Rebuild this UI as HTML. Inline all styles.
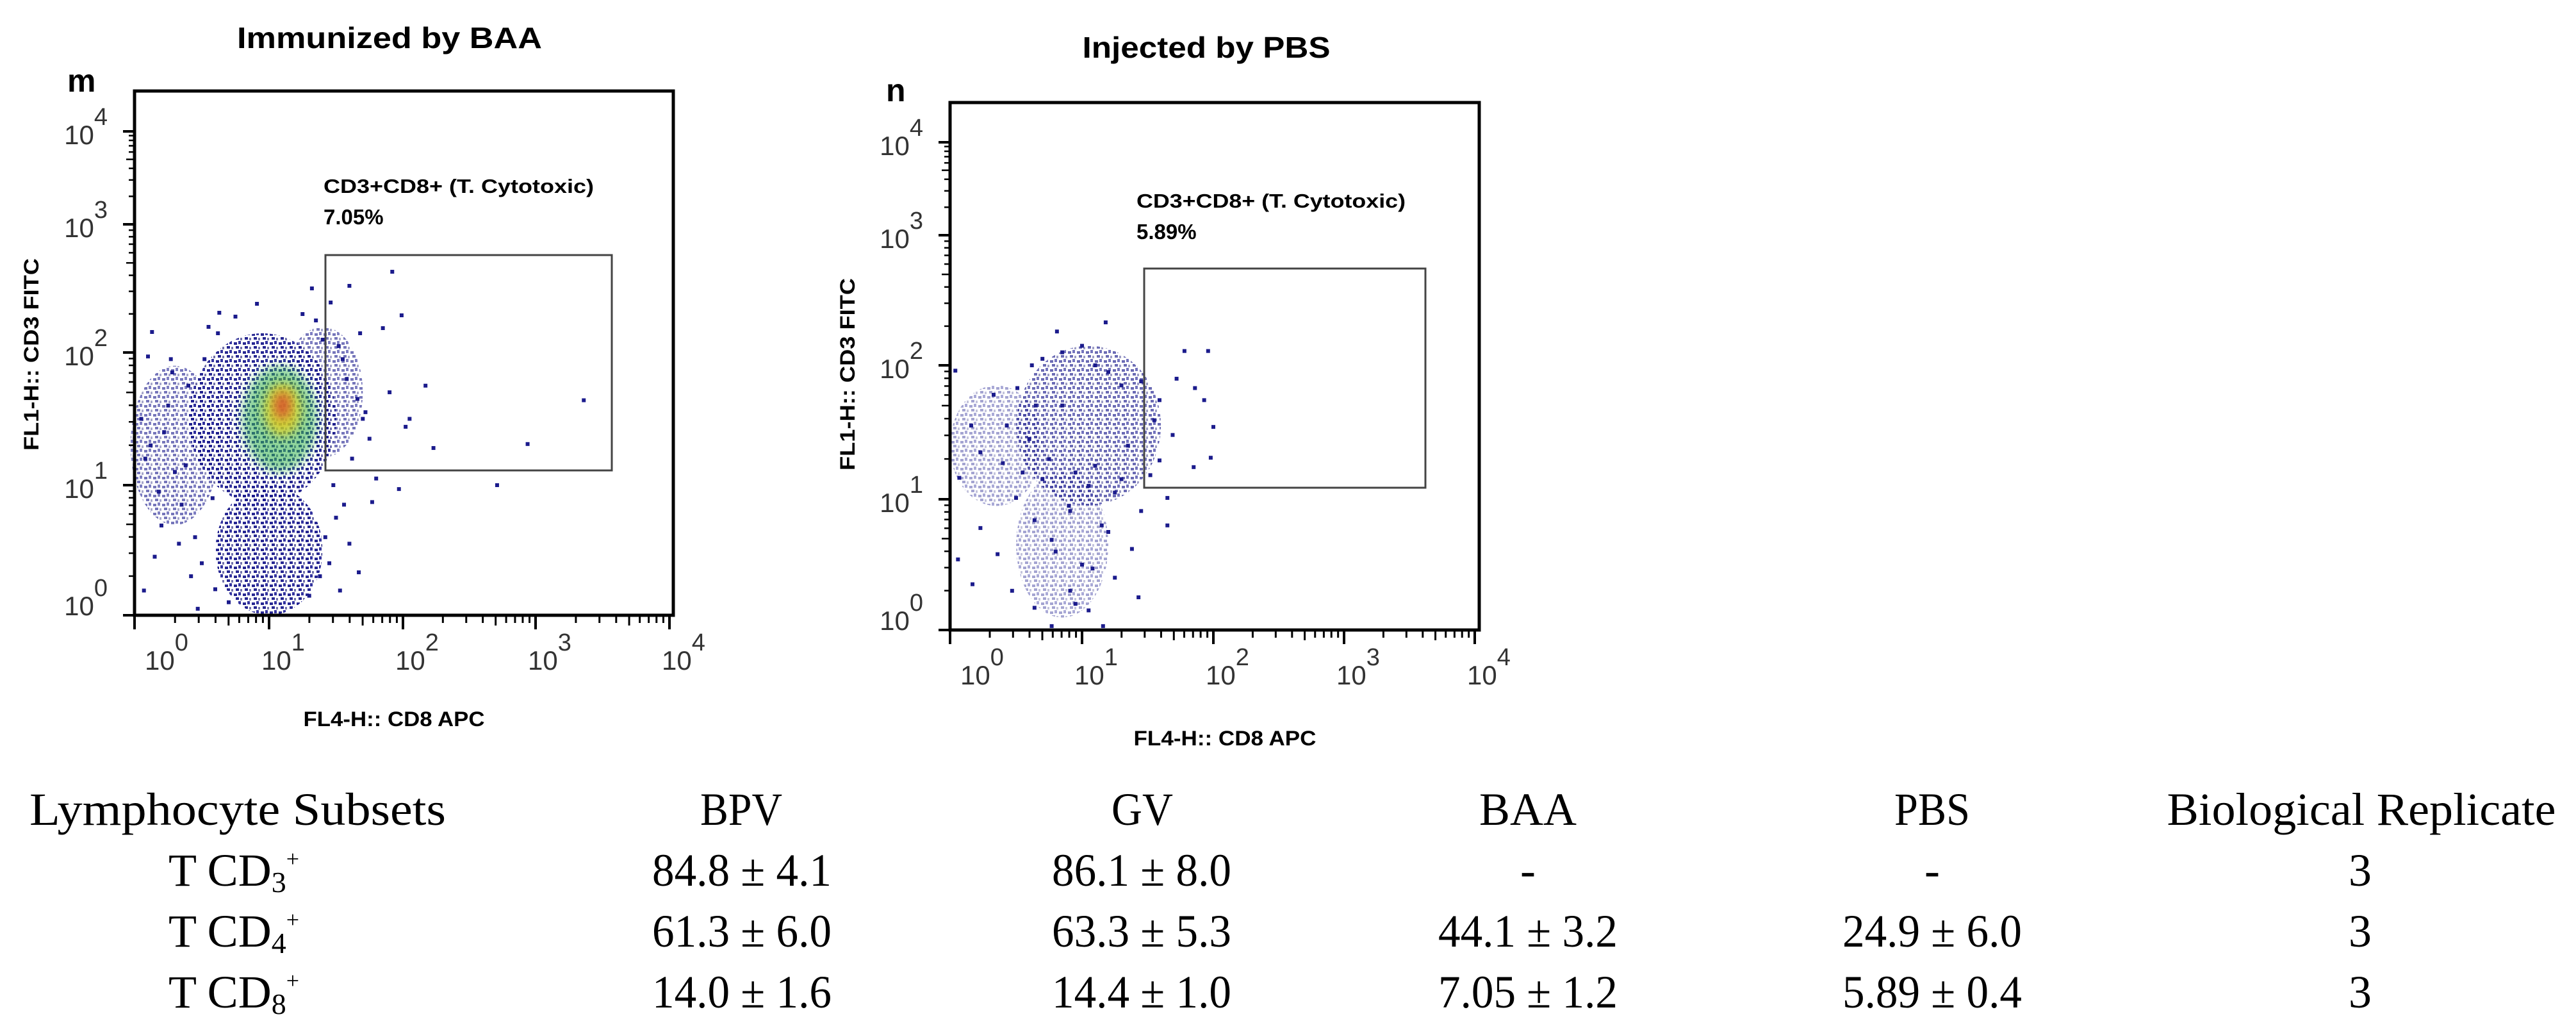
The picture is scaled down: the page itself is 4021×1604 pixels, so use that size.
<!DOCTYPE html>
<html><head><meta charset="utf-8">
<style>
html,body{margin:0;padding:0;background:#fff;}
svg{display:block;}
.ttl{font-family:"Liberation Sans",sans-serif;font-weight:bold;fill:#000;}
.tick{font-family:"Liberation Sans",sans-serif;fill:#333;}
.tbl{font-family:"Liberation Serif",serif;fill:#000;font-size:72px;}
</style></head>
<body>
<svg id="fig" width="4021" height="1604" viewBox="0 0 4021 1604" xmlns="http://www.w3.org/2000/svg">
  <defs>
    <pattern id="speck" width="14" height="14" patternUnits="userSpaceOnUse">
      <rect x="1" y="2" width="5" height="4" fill="#1b1b8c"/>
      <rect x="8" y="0" width="4" height="5" fill="#2a2a9a"/>
      <rect x="4" y="8" width="5" height="4" fill="#1b1b8c"/>
      <rect x="11" y="9" width="3" height="4" fill="#6a6aa8"/>
    </pattern>
    <filter id="blur" x="-30%" y="-30%" width="160%" height="160%"><feGaussianBlur stdDeviation="8"/></filter>
  </defs>
  <g id="panelM"></g>
  <g id="panelN"></g>
  <g id="table">
    <text class="tbl" x="371" y="1287" text-anchor="middle" textLength="650" lengthAdjust="spacingAndGlyphs">Lymphocyte Subsets</text>
    <text class="tbl" x="1157" y="1287" text-anchor="middle" textLength="128" lengthAdjust="spacingAndGlyphs">BPV</text>
    <text class="tbl" x="1783" y="1287" text-anchor="middle" textLength="96" lengthAdjust="spacingAndGlyphs">GV</text>
    <text class="tbl" x="2385" y="1287" text-anchor="middle" textLength="152" lengthAdjust="spacingAndGlyphs">BAA</text>
    <text class="tbl" x="3016" y="1287" text-anchor="middle" textLength="118" lengthAdjust="spacingAndGlyphs">PBS</text>
    <text class="tbl" x="3686" y="1287" text-anchor="middle" textLength="607" lengthAdjust="spacingAndGlyphs">Biological Replicate</text>
  </g>
  <g>
  <text class="ttl" x="608" y="75" font-size="46" text-anchor="middle" textLength="476" lengthAdjust="spacingAndGlyphs">Immunized by BAA</text>
  <text class="ttl" x="105" y="143" font-size="50">m</text>
  <text class="ttl" x="505" y="301" font-size="31" textLength="422" lengthAdjust="spacingAndGlyphs">CD3+CD8+ (T. Cytotoxic)</text>
  <text class="ttl" x="505" y="350" font-size="33">7.05%</text>
  <text class="ttl" x="0" y="0" font-size="32" text-anchor="middle" textLength="300" lengthAdjust="spacingAndGlyphs" transform="translate(60,553) rotate(-90)">FL1-H:: CD3 FITC</text>
  <text class="ttl" x="615" y="1133" font-size="32" text-anchor="middle" textLength="283" lengthAdjust="spacingAndGlyphs">FL4-H:: CD8 APC</text>
  <text class="ttl" x="1883" y="90" font-size="46" text-anchor="middle" textLength="387" lengthAdjust="spacingAndGlyphs">Injected by PBS</text>
  <text class="ttl" x="1383" y="158" font-size="50">n</text>
  <text class="ttl" x="1774" y="324" font-size="31" textLength="420" lengthAdjust="spacingAndGlyphs">CD3+CD8+ (T. Cytotoxic)</text>
  <text class="ttl" x="1774" y="373" font-size="33">5.89%</text>
  <text class="ttl" x="0" y="0" font-size="32" text-anchor="middle" textLength="300" lengthAdjust="spacingAndGlyphs" transform="translate(1334,584) rotate(-90)">FL1-H:: CD3 FITC</text>
  <text class="ttl" x="1912" y="1163" font-size="32" text-anchor="middle" textLength="285" lengthAdjust="spacingAndGlyphs">FL4-H:: CD8 APC</text>
  </g>
</svg>
<script>
// ---- table data ----
const rowSubs = ['3','4','8'];
const colBPV = ['84.8 ± 4.1','61.3 ± 6.0','14.0 ± 1.6'];
const colGV  = ['86.1 ± 8.0','63.3 ± 5.3','14.4 ± 1.0'];
const colBAA = ['-','44.1 ± 3.2','7.05 ± 1.2'];
const colPBS = ['-','24.9 ± 6.0','5.89 ± 0.4'];
const colRep = ['3','3','3'];

// ---- panel m (BAA) data: points in decades (log10 units) ----
const mPtsX = [1.92,1.60,1.99,3.36,2.94,2.23,2.71,1.97,2.17,2.02,1.85,1.46,1.32,0.91,0.63,0.13,0.10,1.67,1.53,1.77,0.07,0.20,0.47,
  0.05,0.12,0.25,0.3,0.18,0.4,0.35,0.08,0.22,0.45,0.28,1.62,1.7,1.58,1.75,1.8,1.55,1.66,1.5,1.72,1.6,1.9,2.05,1.52,1.68,
  0.55,0.6,0.7,1.45,1.4,1.35,0.5,0.58,1.3,1.42,0.62,0.52,0.75,1.25,1.38,0.15,0.33,0.42,0.27,0.38,1.48,1.56];
const mPtsY = [2.63,2.52,2.29,1.64,1.31,1.28,1.00,0.97,1.75,1.44,2.19,2.39,2.50,2.38,2.31,2.16,1.97,0.33,0.19,0.87,0.19,0.69,0.05,
  1.5,1.3,1.6,1.1,0.95,1.75,0.85,1.2,1.4,0.6,1.85,1.2,1.5,1.8,1.35,1.05,1.95,1.65,0.75,1.55,0.55,1.7,1.5,2.05,2.15,
  2.2,0.2,0.1,0.4,2.1,2.25,0.4,0.9,0.15,0.6,2.15,1.95,2.28,2.3,0.3,0.45,0.55,0.3,1.95,1.15,1.0,0.85];
const mDenX  = [0.95,1.0,0.3,1.4,1.08,1.1,1.1];
const mDenY  = [1.5,0.5,1.3,1.7,1.5,1.57,1.6];
const mDenRX = [0.55,0.4,0.33,0.3,0.28,0.14,0.06];
const mDenRY = [0.65,0.5,0.6,0.5,0.4,0.2,0.1];
const mDenLevel = [0,0,1,1,2,3,4];

// ---- panel n (PBS) data ----
const nPtsX = [1.96,1.78,2.0,1.98,1.85,1.86,1.72,1.93,1.65,1.65,1.43,1.18,0.81,0.04,0.06,0.17,0.47,0.64,0.77,1.16,0.23,0.36,0.07,0.23,0.33,0.51,0.62,1.45,1.59,1.55,1.69,1.59,1.52,1.45,1.38,1.25,0.91,1.08,0.77,0.91,0.64,0.5,0.4,0.16,0.43,
  0.7,0.85,1.0,1.1,1.2,1.3,0.95,1.05,0.75,1.35,0.6,0.9,1.15,1.25,0.8,1.0,0.7,1.1,0.85,1.3,0.65,0.55,0.95,1.2,1.05];
const nPtsY = [2.11,2.11,1.54,1.31,1.24,1.83,1.90,1.74,1.01,0.80,0.25,2.33,2.26,1.96,0.54,0.35,0.30,0.17,0.03,0.03,0.78,0.58,1.16,1.35,1.78,1.83,2.0,1.88,1.74,1.59,1.48,1.29,1.18,0.91,0.62,0.40,0.30,0.47,0.69,0.91,0.84,1.01,1.27,1.55,1.55,
  2.05,2.1,2.15,2.0,1.95,1.85,1.2,1.1,1.3,1.4,1.45,0.95,0.8,1.05,0.6,0.5,1.15,1.25,1.7,1.15,1.7,1.2,0.2,0.75,0.15];
const nDenX  = [1.05,0.85,0.35];
const nDenY  = [1.55,0.65,1.4];
const nDenRX = [0.55,0.35,0.35];
const nDenRY = [0.6,0.55,0.45];
const nDenLevel = [5,6,6];

const levelFill = ['url(#speck)','url(#speck)','#32b04a','#e8d21c','#d8402a','url(#speck)','url(#speck)'];
const levelOpacity = [0.95,0.6,0.55,0.75,0.8,0.65,0.4];
const levelBlur = [false,false,true,true,true,false,false];

const NS='http://www.w3.org/2000/svg';
function mk(tag, attrs, parent){const e=document.createElementNS(NS,tag);for(const k in attrs)e.setAttribute(k,attrs[k]);parent.appendChild(e);return e;}

function makeScale(px){
  return function(d){
    let i=Math.floor(d); if(i<0)i=0; if(i>3)i=3;
    return px[i]+(d-i)*(px[i+1]-px[i]);
  };
}

function drawPanel(g, cfg){
  const sx=makeScale(cfg.xTicks), sy=makeScale(cfg.yTicks);
  for(let i=0;i<cfg.denX.length;i++){
    const lv=cfg.denL[i];
    const cx=sx(cfg.denX[i]), cy=sy(cfg.denY[i]);
    const rx=Math.abs(sx(cfg.denX[i]+cfg.denRX[i])-cx), ry=Math.abs(sy(cfg.denY[i]+cfg.denRY[i])-cy);
    const a={cx,cy,rx,ry,fill:levelFill[lv],'fill-opacity':levelOpacity[lv]};
    if(levelBlur[lv]) a.filter='url(#blur)';
    const e=mk('ellipse',a,g);
    
    
  }
  for(let i=0;i<cfg.ptsX.length;i++){
    const c=mk('rect',{x:sx(cfg.ptsX[i])-3,y:sy(cfg.ptsY[i])-3,width:6,height:6,fill:'#1b1b8c'},g);
    
    
  }
  const L=cfg.box[0],T=cfg.box[1],R=cfg.box[2],B=cfg.box[3];
  const bx=mk('rect',{x:L,y:T,width:R-L,height:B-T,fill:'none',stroke:'#000','stroke-width':5},g);
  
  
  const gt=mk('rect',{x:cfg.gate[0],y:cfg.gate[1],width:cfg.gate[2]-cfg.gate[0],height:cfg.gate[3]-cfg.gate[1],fill:'none',stroke:'#444','stroke-width':3},g);
  
  
  for(let d=0;d<4;d++){
    for(let k=1;k<=10;k++){
      const v=d+Math.log10(k);
      const major=(k===1||k===10);
      const lx=sx(v);
      mk('line',{x1:lx,y1:B,x2:lx,y2:B+(major?22:(k===5?16:12)),stroke:'#000','stroke-width':major?4:3},g);
      const ly=sy(v);
      mk('line',{x1:L,y1:ly,x2:L-(major?18:(k===5?13:9)),y2:ly,stroke:'#000','stroke-width':major?4:2.5},g);
    }
  }
  for(let d=0;d<=4;d++){
    const xl=(d===0?L+16:cfg.xTicks[d]-12);
    const t=mk('text',{x:xl,y:B+85,'class':'tick','font-size':42},g);
    t.innerHTML='10<tspan font-size="38" dy="-30">'+d+'</tspan>';
    
    
    const yl=mk('text',{x:L-42,y:cfg.yTicks[d]+(d===0?0:20),'class':'tick','font-size':42,'text-anchor':'end'},g);
    yl.innerHTML='10<tspan font-size="38" dy="-30">'+d+'</tspan>';
    
    
  }
}

drawPanel(document.getElementById('panelM'),{xTicks:[210,420,629,836,1045],yTicks:[960,757,550,350,205],
  box:[210,142,1051,960],gate:[508,398,955,734],ptsX:mPtsX,ptsY:mPtsY,denX:mDenX,denY:mDenY,denRX:mDenRX,denRY:mDenRY,denL:mDenLevel});
drawPanel(document.getElementById('panelN'),{xTicks:[1483,1689,1894,2098,2302],yTicks:[983,779,570,367,222],
  box:[1483,160,2309,983],gate:[1786,419,2225,761],ptsX:nPtsX,ptsY:nPtsY,denX:nDenX,denY:nDenY,denRX:nDenRX,denRY:nDenRY,denL:nDenLevel});

const tbl=document.getElementById('table');
const rowY=[1382,1477,1572];
const cols=[[colBPV,1158],[colGV,1782],[colBAA,2385],[colPBS,3016],[colRep,3684]];
for(let r=0;r<3;r++){
  const lab=mk('text',{x:263,y:rowY[r],'class':'tbl'},tbl);
  lab.innerHTML='T CD<tspan font-size="46" dy="10">'+rowSubs[r]+'</tspan><tspan font-size="36" dy="-40">+</tspan>';
  
  
  for(const [arr,cx] of cols){
    const v=arr[r];
    const a={x:cx,y:rowY[r],'class':'tbl','text-anchor':'middle'};
    if(v.length>3){a.textLength=280;a.lengthAdjust='spacingAndGlyphs';}
    const t=mk('text',a,tbl);
    t.textContent=v;
    
    
  }
}
</script>
</body></html>
